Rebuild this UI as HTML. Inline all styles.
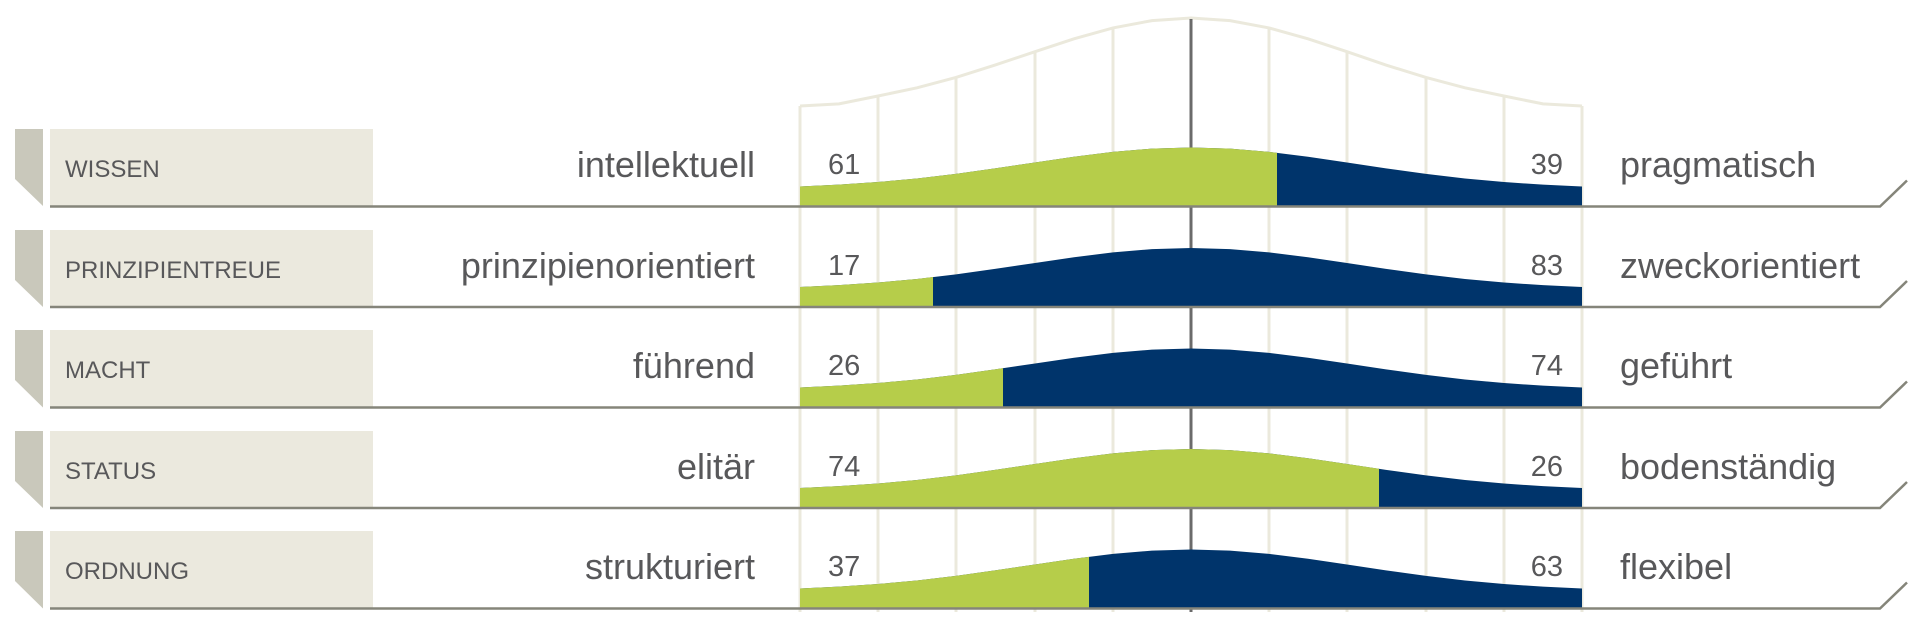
<!DOCTYPE html>
<html><head><meta charset="utf-8"><style>
html,body{margin:0;padding:0;background:#fff;}
svg{display:block;}
text{font-family:"Liberation Sans",sans-serif;fill:#58585a;}
.c{font-size:24px}.l{font-size:36px}.n{font-size:29px}
</style></head><body>
<svg width="1920" height="623" viewBox="0 0 1920 623" xmlns="http://www.w3.org/2000/svg">
<defs>
<path id="bell" d="M800 0.53 L800 0 L839 -0.0467 L878 -0.1138 L917 -0.2063 L956 -0.3252 L995 -0.465 L1035 -0.6167 L1074 -0.7634 L1113 -0.8874 L1152 -0.9707 L1191 -1 L1230 -0.9707 L1269 -0.8874 L1308 -0.7634 L1347 -0.6167 L1386 -0.465 L1426 -0.3252 L1465 -0.2063 L1504 -0.1138 L1543 -0.0467 L1582 0 L1582 0.53 Z"/>
<clipPath id="c1" clipPathUnits="userSpaceOnUse"><rect x="800" y="-2" width="477" height="4"/></clipPath>
<clipPath id="c2" clipPathUnits="userSpaceOnUse"><rect x="800" y="-2" width="133" height="4"/></clipPath>
<clipPath id="c3" clipPathUnits="userSpaceOnUse"><rect x="800" y="-2" width="203" height="4"/></clipPath>
<clipPath id="c4" clipPathUnits="userSpaceOnUse"><rect x="800" y="-2" width="579" height="4"/></clipPath>
<clipPath id="c5" clipPathUnits="userSpaceOnUse"><rect x="800" y="-2" width="289" height="4"/></clipPath>
</defs>
<g stroke="#ebe9dc" stroke-width="3" fill="none">
<polyline points="800,106 839,103.9 878,96 917,87.8 956,77.4 995,65.1 1035,51.7 1074,38.8 1113,27.9 1152,20.6 1191,18 1230,20.6 1269,27.9 1308,38.8 1347,51.7 1386,65.1 1426,77.4 1465,87.8 1504,96 1543,103.9 1582,106"/>
<line x1="800" y1="106" x2="800" y2="612"/>
<line x1="1582" y1="106" x2="1582" y2="612"/>
<line x1="878" y1="96" x2="878" y2="612"/>
<line x1="956" y1="77" x2="956" y2="612"/>
<line x1="1035" y1="52" x2="1035" y2="612"/>
<line x1="1113" y1="28" x2="1113" y2="612"/>
<line x1="1269" y1="28" x2="1269" y2="612"/>
<line x1="1347" y1="52" x2="1347" y2="612"/>
<line x1="1426" y1="77" x2="1426" y2="612"/>
<line x1="1504" y1="96" x2="1504" y2="612"/>
</g>
<line x1="1191" y1="19" x2="1191" y2="612" stroke="#6b6b6b" stroke-width="3"/>

<!-- Row 1 -->
<rect x="50" y="129" width="323" height="77" fill="#ebe9de"/>
<path d="M15 129 L43 129 L43 206 L15 179 Z" fill="#c9c8bb"/>
<text class="c" x="65" y="177">WISSEN</text>
<use href="#bell" fill="#00346b" transform="translate(0,186.5) scale(1,39)"/>
<use href="#bell" fill="#b6cd4a" clip-path="url(#c1)" transform="translate(0,186.5) scale(1,39)"/>
<path d="M50 206.5 L1880 206.5 L1907 180.5" fill="none" stroke="#85857a" stroke-width="2.5"/>
<text class="l" x="755" y="177" text-anchor="end">intellektuell</text>
<text class="l" x="1620" y="177">pragmatisch</text>
<text class="n" x="828" y="174">61</text>
<text class="n" x="1563" y="174" text-anchor="end">39</text>

<!-- Row 2 -->
<rect x="50" y="230" width="323" height="77" fill="#ebe9de"/>
<path d="M15 230 L43 230 L43 307 L15 280 Z" fill="#c9c8bb"/>
<text class="c" x="65" y="278">PRINZIPIENTREUE</text>
<use href="#bell" fill="#00346b" transform="translate(0,287) scale(1,39)"/>
<use href="#bell" fill="#b6cd4a" clip-path="url(#c2)" transform="translate(0,287) scale(1,39)"/>
<path d="M50 307 L1880 307 L1907 281" fill="none" stroke="#85857a" stroke-width="2.5"/>
<text class="l" x="755" y="278" text-anchor="end">prinzipienorientiert</text>
<text class="l" x="1620" y="278">zweckorientiert</text>
<text class="n" x="828" y="275">17</text>
<text class="n" x="1563" y="275" text-anchor="end">83</text>

<!-- Row 3 -->
<rect x="50" y="330" width="323" height="77" fill="#ebe9de"/>
<path d="M15 330 L43 330 L43 407.5 L15 380 Z" fill="#c9c8bb"/>
<text class="c" x="65" y="378">MACHT</text>
<use href="#bell" fill="#00346b" transform="translate(0,387.5) scale(1,39)"/>
<use href="#bell" fill="#b6cd4a" clip-path="url(#c3)" transform="translate(0,387.5) scale(1,39)"/>
<path d="M50 407.5 L1880 407.5 L1907 381.5" fill="none" stroke="#85857a" stroke-width="2.5"/>
<text class="l" x="755" y="378" text-anchor="end">führend</text>
<text class="l" x="1620" y="378">geführt</text>
<text class="n" x="828" y="375">26</text>
<text class="n" x="1563" y="375" text-anchor="end">74</text>

<!-- Row 4 -->
<rect x="50" y="431" width="323" height="77" fill="#ebe9de"/>
<path d="M15 431 L43 431 L43 508 L15 481 Z" fill="#c9c8bb"/>
<text class="c" x="65" y="479">STATUS</text>
<use href="#bell" fill="#00346b" transform="translate(0,488) scale(1,39)"/>
<use href="#bell" fill="#b6cd4a" clip-path="url(#c4)" transform="translate(0,488) scale(1,39)"/>
<path d="M50 508 L1880 508 L1907 482" fill="none" stroke="#85857a" stroke-width="2.5"/>
<text class="l" x="755" y="479" text-anchor="end">elitär</text>
<text class="l" x="1620" y="479">bodenständig</text>
<text class="n" x="828" y="476">74</text>
<text class="n" x="1563" y="476" text-anchor="end">26</text>

<!-- Row 5 -->
<rect x="50" y="531" width="323" height="77" fill="#ebe9de"/>
<path d="M15 531 L43 531 L43 608.5 L15 581 Z" fill="#c9c8bb"/>
<text class="c" x="65" y="579">ORDNUNG</text>
<use href="#bell" fill="#00346b" transform="translate(0,588.5) scale(1,39)"/>
<use href="#bell" fill="#b6cd4a" clip-path="url(#c5)" transform="translate(0,588.5) scale(1,39)"/>
<path d="M50 608.5 L1880 608.5 L1907 582.5" fill="none" stroke="#85857a" stroke-width="2.5"/>
<text class="l" x="755" y="579" text-anchor="end">strukturiert</text>
<text class="l" x="1620" y="579">flexibel</text>
<text class="n" x="828" y="576">37</text>
<text class="n" x="1563" y="576" text-anchor="end">63</text>
</svg>
</body></html>
